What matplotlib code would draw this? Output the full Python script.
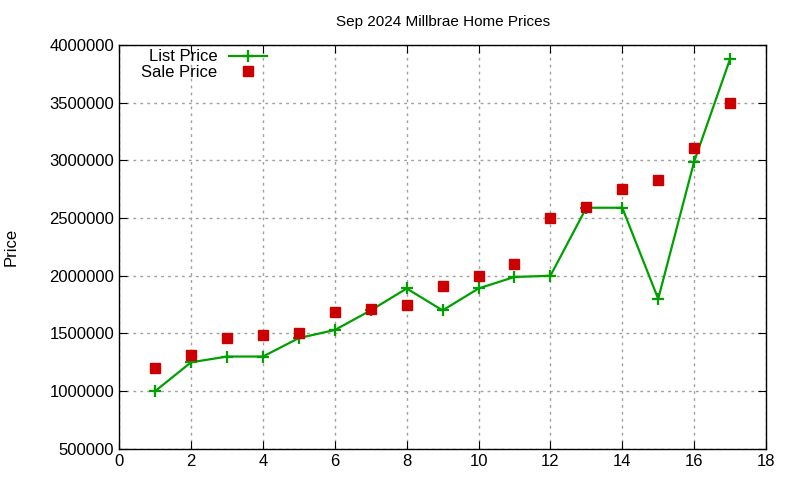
import matplotlib
matplotlib.use("Agg")
import matplotlib.pyplot as plt
import matplotlib.ticker as mticker

plt.rcParams['font.family'] = ['Liberation Sans', 'DejaVu Sans']

# listing index (1..17)
homes = list(range(1, 18))
list_price = [1000000, 1250000, 1300000, 1300000, 1460000, 1530000, 1700000,
              1890000, 1700000, 1890000, 1990000, 2000000, 2590000, 2590000,
              1800000, 2990000, 3880000]
sale_price = [1200000, 1315000, 1460000, 1485000, 1500000, 1690000, 1710000,
              1750000, 1910000, 2000000, 2100000, 2500000, 2600000, 2750000,
              2830000, 3110000, 3500000]

fig = plt.figure(figsize=(8, 4.8), dpi=100)
ax = fig.add_axes([0.149, 0.065, 0.8085, 0.841])

ax.plot(homes, list_price, color='#00a000', linewidth=1.6, marker='+',
        markersize=8, markeredgewidth=1.6, label='List Price')
ax.plot(homes, sale_price, linestyle='none', color='#cc0000', marker='s',
        markersize=7, label='Sale Price')

ax.set_xlim(0, 18)
ax.set_ylim(500000, 4000000)
ax.xaxis.set_major_locator(mticker.MultipleLocator(2))
ax.yaxis.set_major_locator(mticker.MultipleLocator(500000))
ax.yaxis.set_major_formatter(mticker.FormatStrFormatter('%d'))
ax.tick_params(direction='in', top=True, right=True, labelsize=12, length=6)
ax.grid(True, linestyle=(0, (2, 3)), color='#a0a0a0', linewidth=1)
for s in ax.spines.values():
    s.set_linewidth(1)

ax.set_title('Sep 2024 Millbrae Home Prices', fontsize=11, pad=14)
ax.set_ylabel('Price', fontsize=12, labelpad=22)

ax.legend(loc='upper left', markerfirst=False, frameon=False, fontsize=12,
          handlelength=2.3, borderaxespad=0.1, handletextpad=0.7,
          labelspacing=0.05, bbox_to_anchor=(0.021, 1.01))

fig.savefig('out.png', dpi=100)
